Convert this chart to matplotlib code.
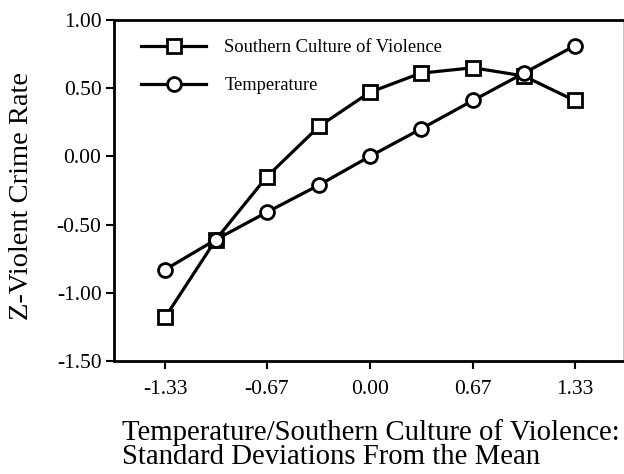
import matplotlib
matplotlib.use("Agg")
import matplotlib.pyplot as plt

x_vals = [-1.33, -1.0, -0.67, -0.33, 0.0, 0.33, 0.67, 1.0, 1.33]
southern = [-1.18, -0.61, -0.15, 0.22, 0.47, 0.61, 0.65, 0.59, 0.41]
temperature = [-0.83, -0.61, -0.41, -0.21, 0.0, 0.20, 0.41, 0.61, 0.81]
xticks = [-1.33, -0.67, 0.0, 0.67, 1.33]
xtick_labels = ["-1.33", "-0.67", "0.00", "0.67", "1.33"]
yticks = [1.0, 0.5, 0.0, -0.5, -1.0, -1.5]
ytick_labels = ["1.00", "0.50", "0.00", "-0.50", "-1.00", "-1.50"]
xlabel_lines = ["Temperature/Southern Culture of Violence:", "Standard Deviations From the Mean"]

plt.rcParams['font.family'] = ['Liberation Serif', 'DejaVu Serif']

fig = plt.figure(figsize=(6.24, 4.74), dpi=100)
ax = fig.add_axes([114/624, 1 - 361/474, (623-114)/624, (361-20)/474])

ax.plot(x_vals, southern, color='black', lw=2.3, marker='s', markersize=10,
        markerfacecolor='white', markeredgecolor='black', markeredgewidth=2,
        label='Southern Culture of Violence', zorder=3)
ax.plot(x_vals, temperature, color='black', lw=2.3, marker='o', markersize=10,
        markerfacecolor='white', markeredgecolor='black', markeredgewidth=2,
        label='Temperature', zorder=3)

ax.set_xlim(-1.662, 1.645)
ax.set_ylim(-1.5, 1.0)
ax.set_xticks(xticks)
ax.set_xticklabels(xtick_labels)
ax.set_yticks(yticks)
ax.set_yticklabels(ytick_labels)
ax.tick_params(axis='both', direction='out', length=6, width=1.5, labelsize=15.5, pad=3)
ax.tick_params(axis='x', pad=8)

for s in ['left', 'bottom', 'top']:
    ax.spines[s].set_linewidth(2)
ax.spines['right'].set_linewidth(0.6)
ax.spines['right'].set_color('#bbbbbb')

leg = ax.legend(loc='upper left', bbox_to_anchor=(0.021, 0.993), frameon=False,
                fontsize=13.3, handlelength=3.5, labelspacing=1.15, handletextpad=1.0)

fig.text(22/624, 1 - 196/474, 'Z-Violent Crime Rate', fontsize=20.5, rotation=90,
         ha='center', va='center')
fig.text(122/624, 1 - 440/474, xlabel_lines[0], fontsize=20.7, ha='left', va='baseline')
fig.text(122/624, 1 - 464/474, xlabel_lines[1], fontsize=20.7, ha='left', va='baseline')

fig.savefig('out.png', dpi=100)
